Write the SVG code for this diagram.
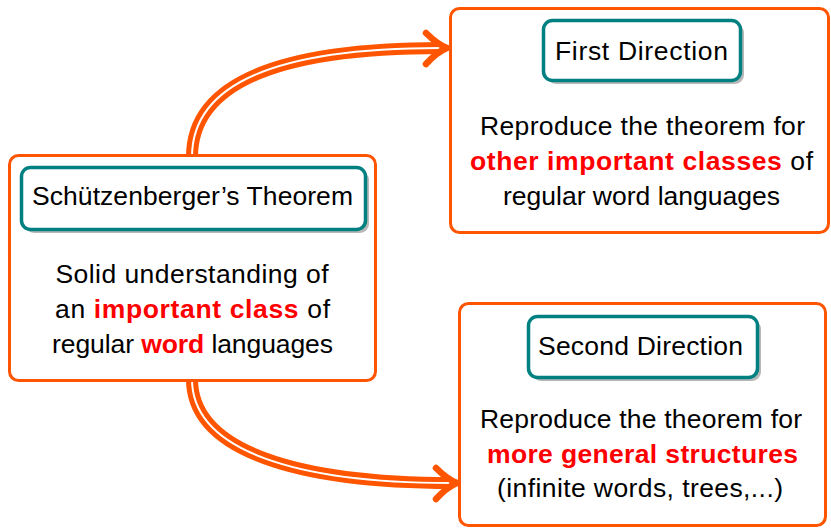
<svg xmlns="http://www.w3.org/2000/svg" width="831" height="528" viewBox="0 0 831 528">
<defs>
<style>
.outer{fill:#fff;stroke:#ff5500;stroke-width:3}
.inner{fill:#fff;stroke:#008080;stroke-width:3.5}
.shadow{fill:#b8b8b8}
text{font-family:"Liberation Sans",Arial,sans-serif;font-size:26.5px;fill:#000;text-anchor:middle}
.hl{fill:#ff0000;font-weight:bold}
.arr-o{fill:none;stroke:#ff5500;stroke-width:12}
.arr-i{fill:none;stroke:#fff;stroke-width:2}
.head{fill:none;stroke:#ff5500;stroke-width:6.5;stroke-linecap:round;stroke-linejoin:round}
</style>
</defs>
<rect width="831" height="528" fill="#fff"/>
<g id="connectors">
<path class="arr-o" d="M192,157 C192,78 290,48 442,48"/>
<path class="arr-i" d="M192,157 C192,78 290,48 440,48"/>
<path class="head" d="M426,33 Q437,44 447,48 Q437,52 426,64"/>
<path class="arr-o" d="M192,379 C192,452 300,483 452,483"/>
<path class="arr-i" d="M192,379 C192,452 300,483 450,483"/>
<path class="head" d="M436,468 Q447,479 457,483 Q447,487 436,499"/>
</g>
<g id="left">
<rect class="outer" x="9.5" y="155.5" width="366" height="225" rx="9"/>
<rect class="shadow" x="25" y="171" width="344" height="62" rx="9"/>
<rect class="inner" x="21.5" y="167.5" width="344" height="62" rx="9"/>
<text x="192.5" y="205" textLength="321" lengthAdjust="spacing">Schützenberger’s Theorem</text>
<text x="192" y="283" textLength="273" lengthAdjust="spacing">Solid understanding of</text>
<text x="192.5" y="318" textLength="275" lengthAdjust="spacing">an <tspan class="hl">important class</tspan> of</text>
<text x="192.5" y="353" textLength="281" lengthAdjust="spacing">regular <tspan class="hl">word</tspan> languages</text>
</g>
<g id="first">
<rect class="outer" x="450.5" y="8.5" width="378" height="224" rx="9"/>
<rect class="shadow" x="547" y="24" width="197" height="60" rx="9"/>
<rect class="inner" x="543.5" y="20.5" width="197" height="60" rx="9"/>
<text x="641.5" y="60" textLength="173" lengthAdjust="spacing">First Direction</text>
<text x="642.5" y="135" textLength="325" lengthAdjust="spacing">Reproduce the theorem for</text>
<text x="641.5" y="170" textLength="343" lengthAdjust="spacing"><tspan class="hl">other important classes</tspan> of</text>
<text x="641.5" y="205" textLength="277" lengthAdjust="spacing">regular word languages</text>
</g>
<g id="second">
<rect class="outer" x="459.5" y="303.5" width="366" height="222" rx="9"/>
<rect class="shadow" x="532" y="320" width="229" height="61" rx="9"/>
<rect class="inner" x="528.5" y="316.5" width="229" height="61" rx="9"/>
<text x="640.5" y="355" textLength="205" lengthAdjust="spacing">Second Direction</text>
<text x="641" y="428" textLength="322" lengthAdjust="spacing">Reproduce the theorem for</text>
<text x="642.5" y="463" textLength="311" lengthAdjust="spacing"><tspan class="hl">more general structures</tspan></text>
<text x="640" y="497" textLength="286" lengthAdjust="spacing">(infinite words, trees,...)</text>
</g>
</svg>
